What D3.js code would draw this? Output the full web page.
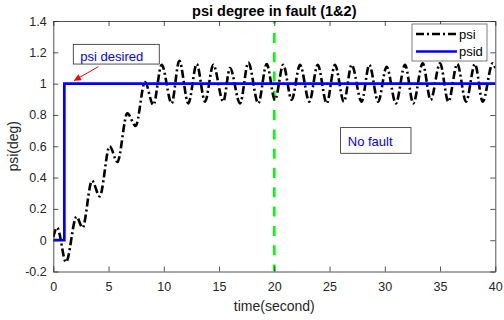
<!DOCTYPE html>
<html><head><meta charset="utf-8">
<script src="https://cdn.jsdelivr.net/npm/d3@7"></script>
<style>body{margin:0;background:#fff;} text{font-family:"Liberation Sans",Arial,sans-serif;}</style>
</head><body><svg id="c" width="504" height="320"></svg>
<script>
// psi response (extrema)
const psiT = [0,0.35,1.15,2.1,2.65,3.5,4.2,5.1,5.8,6.7,7.45,8.3,9.05,9.81,10.71,11.4,12.22,12.98,13.73,14.48,15.38,15.99,16.9,17.65,18.55,19.31,20.06,20.81,21.57,22.33,23.17,23.93,24.74,25.49,26.3,27.0,27.9,28.6,29.4,30.17,31.0,31.83,32.58,33.43,34.15,35.0,35.75,36.56,37.35,38.16,38.86,39.76,40];
const psiV = [0.02,0.08,-0.14,0.15,0.08,0.38,0.28,0.6,0.5,0.81,0.73,1.01,0.864,1.12,0.874,1.146,0.874,1.125,0.885,1.12,0.885,1.10,0.874,1.134,0.874,1.125,0.896,1.12,0.896,1.12,0.885,1.12,0.874,1.12,0.885,1.12,0.885,1.12,0.885,1.108,0.874,1.12,0.874,1.13,0.896,1.13,0.885,1.125,0.885,1.125,0.885,1.13,1.10];
// desired psi (step)
const psidT = [0,1,1,40];
const psidV = [0,0,1,1];
const faultT = [20];
const xTicks = [0,5,10,15,20,25,30,35,40];
const yTicks = [-0.2,0,0.2,0.4,0.6,0.8,1,1.2,1.4];
const yTickLabels = ["-0.2","0","0.2","0.4","0.6","0.8","1","1.2","1.4"];
const seriesNames = ["psi","psid"];

const svg = d3.select("#c");
const L=53.3, R=495.3, T=21, B=271.5;
const x = d3.scaleLinear().domain([0,40]).range([L,R]);
const y = d3.scaleLinear().domain([-0.2,1.4]).range([B,T]);
const axCol = "#262626";

svg.append("rect").attr("width",504).attr("height",320).attr("fill","#fff");

// clip
svg.append("clipPath").attr("id","clip").append("rect").attr("x",L).attr("y",T).attr("width",R-L).attr("height",B-T);
const g = svg.append("g").attr("clip-path","url(#clip)");

// fault line
g.selectAll(".fault").data(faultT).enter().append("line")
  .attr("x1",d=>x(d)).attr("x2",d=>x(d)).attr("y1",B).attr("y2",T)
  .attr("stroke","#00ff00").attr("stroke-width",2.6).attr("stroke-dasharray","10,9.3").attr("stroke-dashoffset",3);

// psi
const psiData = psiT.map((t,i)=>[t,psiV[i]]);
g.append("path").datum(psiData)
  .attr("d", d3.line().x(d=>x(d[0])).y(d=>y(d[1])).curve(d3.curveMonotoneX))
  .attr("fill","none").attr("stroke","#000").attr("stroke-width",2.6)
  .attr("stroke-dasharray","8,3,2,3");

// psid
const psidData = psidT.map((t,i)=>[t,psidV[i]]);
g.append("path").datum(psidData)
  .attr("d", d3.line().x(d=>x(d[0])).y(d=>y(d[1])))
  .attr("fill","none").attr("stroke","#0000ff").attr("stroke-width",2.7);

// axes
function styleAxis(sel){
  sel.selectAll("path").attr("stroke",axCol).attr("stroke-width",0.8);
  sel.selectAll("line").attr("stroke",axCol).attr("stroke-width",0.8);
  sel.selectAll("text").attr("fill",axCol).attr("font-size","12.5px").attr("font-family","Liberation Sans, Arial, sans-serif");
}
svg.append("g").attr("transform",`translate(0,${B})`)
  .call(d3.axisBottom(x).tickValues(xTicks).tickSizeInner(-5).tickSizeOuter(0).tickPadding(11).tickFormat(d3.format("d")))
  .call(styleAxis);
svg.append("g").attr("transform",`translate(0,${T})`)
  .call(d3.axisTop(x).tickValues(xTicks).tickSizeInner(-5).tickSizeOuter(0).tickFormat(""))
  .call(styleAxis);
svg.append("g").attr("transform",`translate(${L},0)`)
  .call(d3.axisLeft(y).tickValues(yTicks).tickSizeInner(-5).tickSizeOuter(0).tickPadding(6.6).tickFormat((d,i)=>yTickLabels[i]))
  .call(styleAxis);
svg.append("g").attr("transform",`translate(${R},0)`)
  .call(d3.axisRight(y).tickValues(yTicks).tickSizeInner(-5).tickSizeOuter(0).tickFormat(""))
  .call(styleAxis);

// title & labels
svg.append("text").attr("x",(L+R)/2).attr("y",15.5).attr("text-anchor","middle")
  .attr("font-size","14.5px").attr("font-weight","bold").attr("fill","#000").text("psi degree in fault (1&2)");
svg.append("text").attr("x",(L+R)/2).attr("y",310.5).attr("text-anchor","middle")
  .attr("font-size","14px").attr("fill",axCol).text("time(second)");
svg.append("text").attr("transform",`translate(18,${(T+B)/2}) rotate(-90)`).attr("text-anchor","middle")
  .attr("font-size","14px").attr("fill",axCol).text("psi(deg)");

// annotation: psi desired
svg.append("rect").attr("x",x(1.81)).attr("y",y(1.251)).attr("width",x(9.59)-x(1.81)).attr("height",y(1.125)-y(1.251))
  .attr("fill","#fff").attr("stroke",axCol).attr("stroke-width",0.8);
svg.append("text").attr("x",x(2.45)).attr("y",y(1.145)).attr("font-size","13px").attr("fill","#0000ff").text("psi desired");
svg.append("defs").append("marker").attr("id","arr").attr("viewBox","0 0 10 10").attr("refX",10).attr("refY",5)
  .attr("markerWidth",10).attr("markerHeight",7).attr("markerUnits","userSpaceOnUse").attr("orient","auto")
  .append("path").attr("d","M0,0L10,5L0,10Z").attr("fill","#ff0000");
svg.append("line").attr("x1",x(4.07)).attr("y1",y(1.108)).attr("x2",x(1.87)).attr("y2",y(1.019))
  .attr("stroke","#ff0000").attr("stroke-width",1).attr("marker-end","url(#arr)");

// annotation: No fault
svg.append("rect").attr("x",x(26.0)).attr("y",y(0.719)).attr("width",x(32.37)-x(26.0)).attr("height",y(0.555)-y(0.719))
  .attr("fill","#fff").attr("stroke",axCol).attr("stroke-width",0.8);
svg.append("text").attr("x",x(26.65)).attr("y",y(0.6)).attr("font-size","13px").attr("fill","#0000ff").text("No fault");

// legend
const lg = svg.append("g").attr("transform","translate(412,24)");
lg.append("rect").attr("width",75).attr("height",37).attr("fill","#fff").attr("stroke",axCol).attr("stroke-width",0.6);
const styles = [{c:"#000",d:"8,3,2,3"},{c:"#0000ff",d:null}];
seriesNames.forEach((n,i)=>{
  const yy = 10 + i*17.5;
  lg.append("line").attr("x1",4).attr("x2",45).attr("y1",yy).attr("y2",yy)
    .attr("stroke",styles[i].c).attr("stroke-width",2.6).attr("stroke-dasharray",styles[i].d);
  lg.append("text").attr("x",47).attr("y",yy+4.5).attr("font-size","13px").attr("fill","#000").text(n);
});
</script></body></html>
